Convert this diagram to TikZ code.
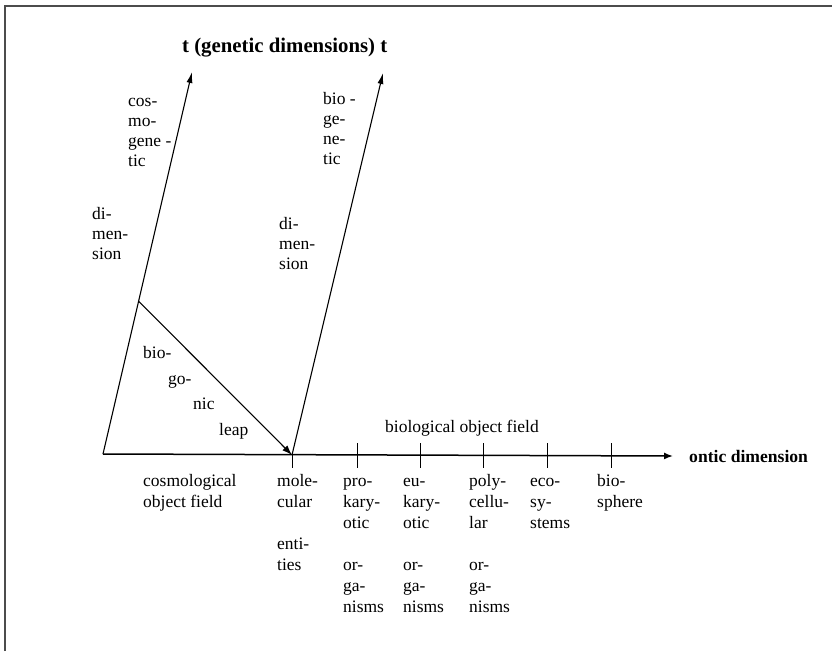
\documentclass[tikz,border=0pt]{standalone}
\usepackage{fontspec}
\setmainfont{Liberation Serif}
\usetikzlibrary{arrows.meta,calc}
\tikzset{
    lbl/.style={anchor=north west, inner sep=0pt, align=left, font=\fontsize{17.5}{#1}\selectfont},
    lbl/.default=20,
    gaxis/.style={line width=1.1pt, -{Latex[length=11pt,width=6pt]}},
    oaxis/.style={line width=1.5pt, -{Latex[length=9pt,width=7pt]}},
    tick/.style={line width=0.8pt}
}

\begin{document}
\begin{tikzpicture}[x=1pt,y=-1pt]
                \useasboundingbox (0,0) rectangle (832,652);
                \draw[line width=1.2pt, color=black!70] (5,651) -- (5,6) -- (832,6);
                \coordinate (O) at (103,454);
                \coordinate (M) at (292,455);
                \coordinate (E) at (673,456);
                \coordinate (Tc) at (192,72);
                \coordinate (Tb) at (383,73);
                \coordinate (L) at ($(O)!0.4!(Tc)$);
                \coordinate (Mb) at (292,468);
                \draw[gaxis] (O) -- (Tc);
                \draw[gaxis] (M) -- (Tb);
                \draw[line width=1.1pt, -{Latex[length=10pt,width=7pt]}] (L) -- (M);
                \draw[oaxis] (O) -- (E);
                \draw[tick] (M) -- (Mb);
                \foreach \x in {357,420,483,547,611}
                    \draw[tick] (\x,443) -- (\x,468);
                \node[anchor=base west, inner sep=0pt, font=\fontsize{20.8}{24}\selectfont\bfseries] (title) at (182,53) {t (genetic dimensions) t};
                \node[anchor=base west, inner sep=0pt, font=\fontsize{17.6}{21}\selectfont\bfseries] (ontic) at (689,462) {ontic dimension};
                \node[anchor=base west, inner sep=0pt, font=\fontsize{17.5}{21}\selectfont] (biofield) at (385,432) {biological object field};
                \node[lbl] (cosmo) at (128,92) {\strut cos-\\mo-\\gene -\\tic};
                \node[lbl] (dimL) at (92,205) {\strut di-\\men-\\sion};
                \node[lbl] (biogen) at (323,90) {\strut bio -\\ge-\\ne-\\tic};
                \node[lbl] (dimR) at (279,215) {\strut di-\\men-\\sion};
                \node[lbl] (leapA) at (143,344) {\strut bio-};
                \node[lbl] (leapB) at (168,370) {\strut go-};
                \node[lbl] (leapC) at (193,395) {\strut nic};
                \node[lbl] (leapD) at (219,421) {\strut leap};
                \node[lbl=21] (cosfield) at (143,472) {\strut cosmological\\object field};
                \node[lbl=21] (molec) at (277,472) {\strut mole-\\cular\\[21pt]enti-\\ties};
                \node[lbl=21] (prok) at (343,472) {\strut pro-\\kary-\\otic\\[21pt]or-\\ga-\\nisms};
                \node[lbl=21] (euk) at (403,472) {\strut eu-\\kary-\\otic\\[21pt]or-\\ga-\\nisms};
                \node[lbl=21] (poly) at (469,472) {\strut poly-\\cellu-\\lar\\[21pt]or-\\ga-\\nisms};
                \node[lbl=21] (eco) at (530,472) {\strut eco-\\sy-\\stems};
                \node[lbl=21] (biosph) at (597,472) {\strut bio-\\sphere};
            \end{tikzpicture}
\end{document}
